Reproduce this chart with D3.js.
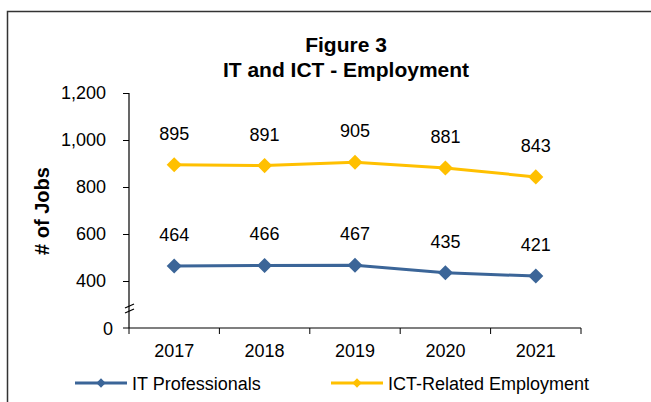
<!DOCTYPE html>
<html>
<head>
<meta charset="utf-8">
<script src="https://cdn.jsdelivr.net/npm/d3@7"></script>
<style>
  body { margin: 0; background: #fff; }
  svg text { font-family: "Liberation Sans", Arial, sans-serif; fill: #000; }
</style>
</head>
<body>
<div id="chart"></div>
<script>
// chart data
var years = ["2017", "2018", "2019", "2020", "2021"];
var itProfessionals = [464, 466, 467, 435, 421];
var ictRelated = [895, 891, 905, 881, 843];
var yTicks = [400, 600, 800, 1000, 1200];

var width = 651, height = 402;
var blue = "#3b6598", gold = "#ffc000";

var svg = d3.select("#chart").append("svg")
    .attr("width", width)
    .attr("height", height);

// outer frame (only left and top edges show)
svg.append("path")
    .attr("d", "M7.5," + height + " V11.5 H" + width)
    .attr("fill", "none")
    .attr("stroke", "#333")
    .attr("stroke-width", 1.5);

// broken axis: bottom of plot is really 200 but labelled 0
var x = d3.scaleBand().domain(years).range([129, 581]).padding(0);
var y = d3.scaleLinear().domain([200, 1200]).range([328, 93]);

var series = [
    { name: "IT Professionals", values: itProfessionals, color: blue },
    { name: "ICT-Related Employment", values: ictRelated, color: gold }
];

// title
svg.append("text").attr("x", 346).attr("y", 52)
    .attr("text-anchor", "middle").style("font-weight", "bold").style("font-size", "21px")
    .text("Figure 3");
svg.append("text").attr("x", 346).attr("y", 77)
    .attr("text-anchor", "middle").style("font-weight", "bold").style("font-size", "21px")
    .text("IT and ICT - Employment");

// y axis
var yAxis = d3.axisLeft(y).tickValues(yTicks).tickSize(6).tickPadding(17)
    .tickFormat(d3.format(","));
var gy = svg.append("g").attr("transform", "translate(129,0)").call(yAxis);
gy.select(".domain").remove();
gy.selectAll("text").style("font-size", "18px").attr("fill", "#000");
gy.selectAll("line").attr("stroke", "#000");

svg.append("line").attr("x1", 129).attr("x2", 129).attr("y1", y(1200)).attr("y2", y(200))
    .attr("stroke", "#000").attr("stroke-width", 1.2);
svg.append("line").attr("x1", 123).attr("x2", 129).attr("y1", y(200)).attr("y2", y(200))
    .attr("stroke", "#000");
svg.append("text").attr("x", 113).attr("y", y(200) + 6.5)
    .attr("text-anchor", "end").style("font-size", "18px").text("0");

// axis break marks
[0, 5].forEach(function (o) {
    svg.append("line")
        .attr("x1", 125).attr("y1", 308 + o)
        .attr("x2", 134).attr("y2", 304 + o)
        .attr("stroke", "#000").attr("stroke-width", 1.3);
});

// y title
svg.append("text")
    .attr("transform", "translate(49,211) rotate(-90)")
    .attr("text-anchor", "middle").style("font-weight", "bold").style("font-size", "20px")
    .text("# of Jobs");

// x axis
svg.append("line").attr("x1", 129).attr("x2", 581).attr("y1", 328).attr("y2", 328)
    .attr("stroke", "#000").attr("stroke-width", 1.2);
var bounds = years.map(function (d) { return x(d); }).concat([x.range()[1]]);
svg.selectAll(".xtick").data(bounds).enter().append("line")
    .attr("class", "xtick")
    .attr("x1", function (d) { return d; }).attr("x2", function (d) { return d; })
    .attr("y1", 328).attr("y2", 334)
    .attr("stroke", "#000");
svg.selectAll(".xlab").data(years).enter().append("text")
    .attr("class", "xlab")
    .attr("x", function (d) { return x(d) + x.bandwidth() / 2; })
    .attr("y", 357)
    .attr("text-anchor", "middle").style("font-size", "18px")
    .text(function (d) { return d; });

// lines, markers, labels
var line = d3.line()
    .x(function (d, i) { return x(years[i]) + x.bandwidth() / 2; })
    .y(function (d) { return y(d); });
var diamond = d3.symbol().type(d3.symbolDiamond2).size(145);

series.forEach(function (s) {
    svg.append("path").datum(s.values)
        .attr("d", line)
        .attr("fill", "none")
        .attr("stroke", s.color)
        .attr("stroke-width", 3);

    svg.selectAll(null).data(s.values).enter().append("path")
        .attr("d", diamond)
        .attr("transform", function (d, i) {
            return "translate(" + (x(years[i]) + x.bandwidth() / 2) + "," + y(d) + ")";
        })
        .attr("fill", s.color);

    svg.selectAll(null).data(s.values).enter().append("text")
        .attr("x", function (d, i) { return x(years[i]) + x.bandwidth() / 2; })
        .attr("y", function (d) { return y(d) - 25; })
        .attr("text-anchor", "middle").style("font-size", "18px")
        .text(function (d) { return d; });
});

// legend
var legendX = [75, 331];
series.forEach(function (s, i) {
    var lg = svg.append("g").attr("transform", "translate(" + legendX[i] + ",383)");
    lg.append("line").attr("x1", 0).attr("x2", 52).attr("y1", 0).attr("y2", 0)
        .attr("stroke", s.color).attr("stroke-width", 3);
    lg.append("path").attr("d", d3.symbol().type(d3.symbolDiamond2).size(55))
        .attr("transform", "translate(26,0)").attr("fill", s.color);
    lg.append("text").attr("x", 57).attr("y", 6.5).style("font-size", "18px").text(s.name);
});
</script>
</body>
</html>
